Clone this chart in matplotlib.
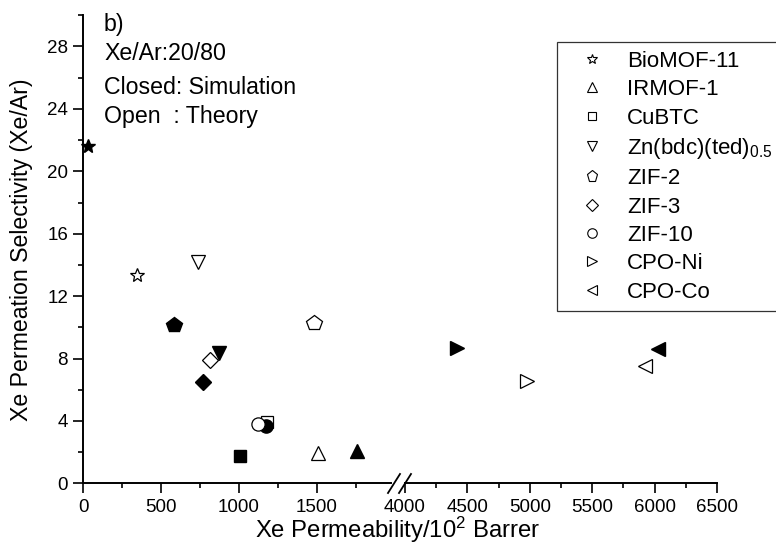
import numpy as np
import matplotlib
matplotlib.use("Agg")
import matplotlib.pyplot as plt
from matplotlib.lines import Line2D
from matplotlib.ticker import MultipleLocator

plt.rcParams['font.family'] = ['Liberation Sans', 'DejaVu Sans']
plt.rcParams['mathtext.fontset'] = 'custom'
plt.rcParams['mathtext.rm'] = 'Liberation Sans'
plt.rcParams['mathtext.it'] = 'Liberation Sans:italic'

# data
mofs = ['BioMOF-11', 'IRMOF-1', 'CuBTC', 'Zn(bdc)(ted)$_{0.5}$', 'ZIF-2',
        'ZIF-3', 'ZIF-10', 'CPO-Ni', 'CPO-Co']
markers = ['*', '^', 's', 'v', 'p', 'D', 'o', '>', '<']
# closed symbols: simulation
sim_x = [28, 1759, 1007, 872, 582, 767, 1173, 4419, 6026]
sim_y = [21.6, 2.05, 1.75, 8.35, 10.15, 6.5, 3.7, 8.7, 8.6]
# open symbols: theory
th_x = [346, 1506, 1179, 739, 1480, 812, 1123, 4976, 5924]
th_y = [13.35, 1.95, 3.9, 14.2, 10.3, 7.9, 3.8, 6.56, 7.5]

# marker size per symbol (matplotlib shapes differ in size)
sizes = {'*': 10.5, '^': 9.5, 's': 8.5, 'v': 9.5, 'p': 11.5,
         'D': 8.0, 'o': 9.5, '>': 9.5, '<': 9.5}

W, H = 776, 559
fig = plt.figure(figsize=(W / 100, H / 100), dpi=100)

bot = 1 - 483.3 / H
hgt = (483.3 - 15.3) / H
w1 = 390.6 - 83.3
ax1 = fig.add_axes([83.3 / W, bot, w1 / W, hgt])
ax2 = fig.add_axes([405 / W, bot, (717 - 405) / W, hgt], sharey=ax1)

ax1.set_xlim(0, 1975)
ax2.set_xlim(4000, 6500)
ax1.set_ylim(0, 30)

for ax in (ax1, ax2):
    ax.spines['top'].set_visible(False)
    ax.spines['right'].set_visible(False)
    for s in ax.spines.values():
        s.set_linewidth(1.4)
    ax.xaxis.set_major_locator(MultipleLocator(500))
    ax.xaxis.set_minor_locator(MultipleLocator(250))
    ax.tick_params(which='major', direction='out', length=7, width=1.2,
                   labelsize=13.5, pad=4)
    ax.tick_params(which='minor', direction='out', length=3.5, width=1.2)
ax1.yaxis.set_major_locator(MultipleLocator(4))
ax1.yaxis.set_minor_locator(MultipleLocator(2))
ax2.spines['left'].set_visible(False)
ax2.tick_params(axis='y', which='both', left=False, labelleft=False)

for i in range(len(mofs)):
    mk = markers[i]
    ax = ax1 if sim_x[i] < 3000 else ax2
    ax.plot(sim_x[i], sim_y[i], marker=mk, ms=sizes[mk], color='black',
            mec='black', ls='none', clip_on=False, zorder=5)
    ax = ax1 if th_x[i] < 3000 else ax2
    ax.plot(th_x[i], th_y[i], marker=mk, ms=sizes[mk], mfc='white',
            mec='black', mew=0.9, ls='none', clip_on=False, zorder=5)

ax1.set_ylabel('Xe Permeation Selectivity (Xe/Ar)', fontsize=16.7)
ax1.yaxis.set_label_coords((33 - 83.3) / w1, 0.5)
fig.text(398 / W, 1 - 530 / H, 'Xe Permeability/10$^2$ Barrer',
         fontsize=17.2, ha='center', va='center')

# axis break marks
for dx in (0, 11):
    fig.add_artist(Line2D([(388 + dx) / W, (400 + dx) / W],
                          [1 - 493 / H, 1 - 474 / H],
                          color='black', lw=1.3))

fig.text(104 / W, 1 - 25 / H, 'b)', fontsize=16.7, va='center')
fig.text(104 / W, 1 - 53 / H, 'Xe/Ar:20/80', fontsize=16.7, va='center')
fig.text(104 / W, 1 - 88 / H, 'Closed: Simulation', fontsize=16.7, va='center')
fig.text(104 / W, 1 - 117 / H, 'Open  : Theory', fontsize=16.7, va='center')

handles = []
for i in range(len(mofs)):
    mk = markers[i]
    handles.append(Line2D([], [], marker=mk, ls='none', ms=sizes[mk] * 0.72,
                          mfc='white', mec='black', mew=0.8))
leg = fig.legend(handles, mofs, loc='upper left',
                 bbox_to_anchor=(557 / W, 1 - 42 / H), fontsize=16,
                 frameon=True, fancybox=False, edgecolor='black',
                 labelspacing=0.33, handlelength=2.35, handletextpad=0.4,
                 borderpad=0.4, borderaxespad=0)
leg.get_frame().set_linewidth(0.9)

fig.savefig('out.png', dpi=100)
